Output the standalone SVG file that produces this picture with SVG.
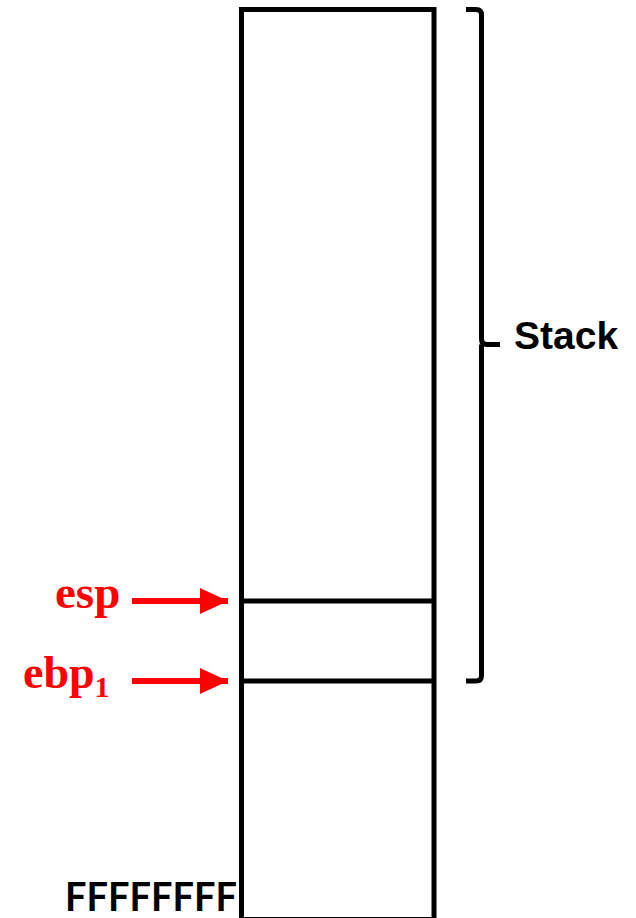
<svg xmlns="http://www.w3.org/2000/svg" width="636" height="918" viewBox="0 0 636 918">
<style>
.box{fill:#fff;stroke:#000;stroke-width:5}
.ln{stroke:#000;stroke-width:5;fill:none}
.br{stroke:#000;stroke-width:5;fill:none;stroke-linejoin:round}
.ptr{stroke:#ff0000;stroke-width:6}
.lbl{font-family:"Liberation Serif","Times New Roman",serif;font-weight:bold;fill:#ff0000}
.blk{font-family:"Liberation Sans",Arial,sans-serif;font-weight:bold;fill:#000}
.blk2{font-family:Lato,"Liberation Sans",Arial,sans-serif;font-weight:bold;fill:#000}
</style>
<defs>
<marker id="ah" markerUnits="userSpaceOnUse" markerWidth="28" markerHeight="26" refX="28" refY="13" orient="auto">
<path d="M0,0 L28,13 L0,26 Z" fill="#ff0000"/>
</marker>
</defs>
<g id="stack-column">
<rect class="box" x="241.5" y="9.5" width="192.5" height="910"/>
<line class="ln" x1="241.5" y1="601" x2="434" y2="601"/>
<line class="ln" x1="241.5" y1="681" x2="434" y2="681"/>
</g>
<g id="stack-brace">
<path class="br" d="M466,9.5 L476,9.5 Q481.5,9.5 481.5,15 L481.5,339 Q481.5,344.5 487,344.5 L500,344.5 M481.5,344.5 L481.5,675.5 Q481.5,681 476,681 L466,681"/>
<text class="blk" x="514" y="349" font-size="39">Stack</text>
</g>
<g id="label-bottom">
<text class="blk2" x="65" y="911" font-size="40" textLength="172" lengthAdjust="spacingAndGlyphs">FFFFFFFF</text>
</g>
<g id="label-esp">
<text class="lbl" x="55" y="608" font-size="47">esp</text>
</g>
<g id="label-ebp">
<text class="lbl" x="23" y="688" font-size="46">ebp<tspan font-size="30" dy="9">1</tspan></text>
</g>
<g id="connectors">
<line class="ptr" x1="132" y1="601" x2="228" y2="601" marker-end="url(#ah)"/>
<line class="ptr" x1="132" y1="681" x2="228" y2="681" marker-end="url(#ah)"/>
</g>
</svg>
